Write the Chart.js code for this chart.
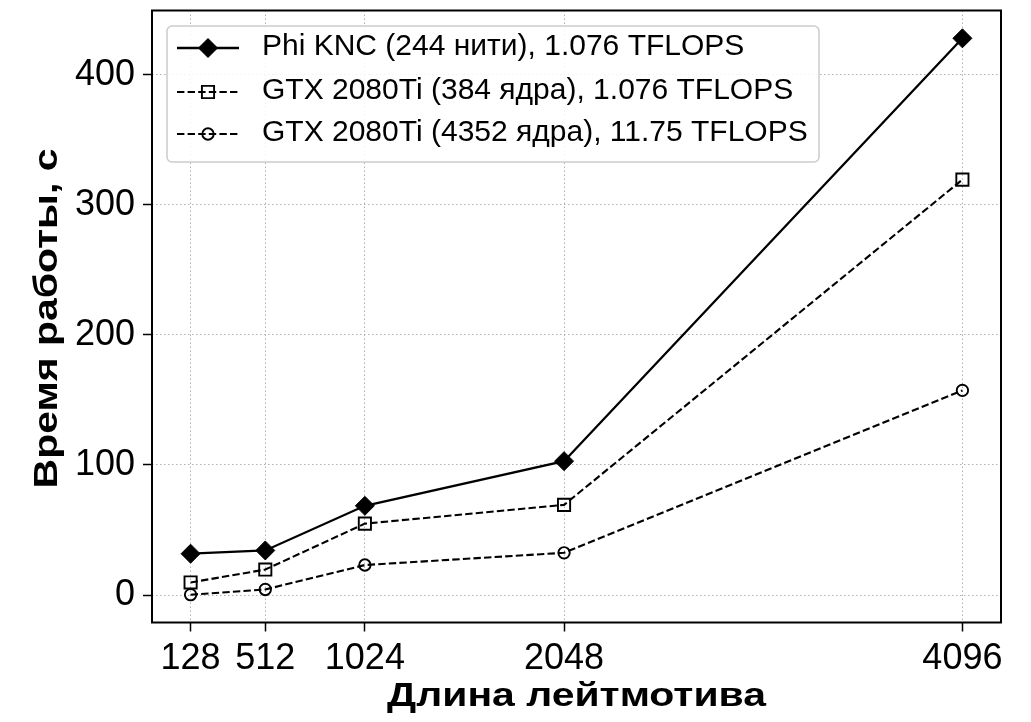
<!DOCTYPE html>
<html>
<head>
<meta charset="utf-8">
<script src="https://cdn.jsdelivr.net/npm/chart.js@4.4.1/dist/chart.umd.min.js"></script>
<style>
  html, body { margin: 0; padding: 0; background: #ffffff; }
  #wrap { width: 1031px; height: 722px; }
</style>
</head>
<body>
<div id="wrap"><canvas id="chart" width="1031" height="722"></canvas></div>
<script>
// Motif length (x) and run time in seconds (y) for each device
const motifLengths = [128, 512, 1024, 2048, 4096];
const phiKnc = [31.8, 34.3, 68.6, 102.9, 427.9];
const gtx384 = [9.7, 19.6, 54.9, 69.3, 319.3];
const gtx4352 = [0.3, 4.3, 23.1, 32.5, 157.3];
const yTickValues = [0, 100, 200, 300, 400];
const xTickValues = [128, 512, 1024, 2048, 4096];
const seriesNames = [
  'Phi KNC (244 нити), 1.076 TFLOPS',
  'GTX 2080Ti (384 ядра), 1.076 TFLOPS',
  'GTX 2080Ti (4352 ядра), 11.75 TFLOPS'
];
const xTitle = 'Длина лейтмотива';
const yTitle = 'Время работы, с';

const FONT = '"Liberation Sans", Arial, Helvetica, sans-serif';
const DASH = [7.4, 3.2];

function toPoints(values) {
  return motifLengths.map((x, i) => ({ x: x, y: values[i] }));
}

// axis limits with a 5% margin around the data
const xSpan = Math.max(...motifLengths) - Math.min(...motifLengths);
const allY = phiKnc.concat(gtx384, gtx4352);
const ySpan = Math.max(...allY) - Math.min(...allY);
const xMin = Math.min(...motifLengths) - 0.05 * xSpan;
const xMax = Math.max(...motifLengths) + 0.05 * xSpan;
const yMin = Math.min(...allY) - 0.05 * ySpan;
const yMax = Math.max(...allY) + 0.05 * ySpan;

const seriesStyles = [
  { pointStyle: 'rectRot', radius: 9.5, fill: '#000000', borderWidth: 1, lineWidth: 2.3, dash: [] },
  { pointStyle: 'rect', radius: 8.6, fill: 'rgba(0,0,0,0)', borderWidth: 1.9, lineWidth: 2.1, dash: DASH },
  { pointStyle: 'circle', radius: 5.7, fill: 'rgba(0,0,0,0)', borderWidth: 1.9, lineWidth: 2.1, dash: DASH }
];
const seriesValues = [phiKnc, gtx384, gtx4352];

const datasets = seriesValues.map((vals, i) => {
  const s = seriesStyles[i];
  return {
    label: seriesNames[i],
    data: toPoints(vals),
    borderColor: '#000000',
    borderWidth: s.lineWidth,
    borderDash: s.dash,
    pointStyle: s.pointStyle,
    pointRadius: s.radius,
    pointHoverRadius: s.radius,
    pointBackgroundColor: s.fill,
    pointBorderColor: '#000000',
    pointBorderWidth: s.borderWidth,
    tension: 0,
    fill: false,
    clip: false
  };
});

// box frame around the plotting area
const framePlugin = {
  id: 'frame',
  afterDatasetsDraw(chart) {
    const { ctx, chartArea: a } = chart;
    ctx.save();
    ctx.setLineDash([]);
    ctx.strokeStyle = '#000000';
    ctx.lineWidth = 2;
    ctx.strokeRect(a.left, a.top, a.right - a.left, a.bottom - a.top);
    ctx.restore();
  }
};

// legend box in the upper left corner of the plot
const legendPlugin = {
  id: 'boxLegend',
  afterDraw(chart) {
    const { ctx, chartArea: a } = chart;
    const x0 = a.left + 15, y0 = a.top + 15.5, w = 652, h = 136;
    ctx.save();
    ctx.beginPath();
    ctx.roundRect(x0, y0, w, h, 5);
    ctx.fillStyle = 'rgba(255,255,255,0.85)';
    ctx.fill();
    ctx.strokeStyle = '#cccccc';
    ctx.lineWidth = 1.5;
    ctx.stroke();
    const rows = [y0 + 22, y0 + 66, y0 + 108];
    seriesStyles.forEach((s, i) => {
      const ry = rows[i];
      const lx1 = x0 + 10, lx2 = x0 + 72, mx = (lx1 + lx2) / 2;
      ctx.beginPath();
      ctx.setLineDash(s.dash);
      ctx.strokeStyle = '#000000';
      ctx.lineWidth = s.lineWidth;
      ctx.moveTo(lx1, ry);
      ctx.lineTo(lx2, ry);
      ctx.stroke();
      ctx.setLineDash([]);
      ctx.fillStyle = s.fill;
      ctx.strokeStyle = '#000000';
      ctx.lineWidth = s.borderWidth;
      Chart.helpers.drawPoint(ctx, {
        pointStyle: s.pointStyle,
        radius: s.radius,
        borderWidth: s.borderWidth,
        rotation: 0
      }, mx, ry);
      ctx.fillStyle = '#000000';
      ctx.font = '30px ' + FONT;
      ctx.textBaseline = 'middle';
      ctx.textAlign = 'left';
      ctx.fillText(seriesNames[i], x0 + 95, ry - 1);
    });
    ctx.restore();
  }
};

// bold axis titles, slightly widened
const titlesPlugin = {
  id: 'axisTitles',
  afterDraw(chart) {
    const { ctx, chartArea: a } = chart;
    const sx = 1.24;
    ctx.save();
    ctx.fillStyle = '#000000';
    ctx.font = 'bold 33px ' + FONT;
    ctx.textAlign = 'center';
    ctx.textBaseline = 'alphabetic';
    ctx.save();
    ctx.translate((a.left + a.right) / 2, 706);
    ctx.scale(sx, 1);
    ctx.fillText(xTitle, 0, 0);
    ctx.restore();
    ctx.save();
    ctx.translate(57, (a.top + a.bottom) / 2 + 2);
    ctx.rotate(-Math.PI / 2);
    ctx.scale(sx, 1);
    ctx.fillText(yTitle, 0, 0);
    ctx.restore();
    ctx.restore();
  }
};

const gridCommon = {
  color: '#b0b0b0',
  lineWidth: 1,
  borderDash: [1.5, 2.5],
  drawTicks: true,
  tickLength: 9,
  tickColor: '#000000',
  tickWidth: 1.5,
  tickBorderDash: []
};

new Chart(document.getElementById('chart'), {
  type: 'line',
  data: { datasets: datasets },
  options: {
    responsive: false,
    devicePixelRatio: 1,
    animation: false,
    events: [],
    layout: { padding: { top: 6.5, right: 30, left: 0, bottom: 0 } },
    plugins: {
      legend: { display: false },
      tooltip: { enabled: false },
      title: { display: false }
    },
    scales: {
      x: {
        type: 'linear',
        min: xMin,
        max: xMax,
        afterBuildTicks(scale) { scale.ticks = xTickValues.map(v => ({ value: v })); },
        afterFit(scale) {
          scale.height = 99.5;
          scale.paddingLeft = 0;
          scale.paddingRight = 0;
        },
        grid: gridCommon,
        border: { display: false, dash: [1.5, 2.5] },
        ticks: {
          color: '#000000',
          font: { family: FONT, size: 36 },
          padding: 6,
          maxRotation: 0,
          autoSkip: false,
          callback: v => String(v)
        },
        title: { display: false }
      },
      y: {
        type: 'linear',
        min: yMin,
        max: yMax,
        afterBuildTicks(scale) { scale.ticks = yTickValues.map(v => ({ value: v })); },
        afterFit(scale) {
          scale.width = 152;
          scale.paddingTop = 0;
          scale.paddingBottom = 0;
        },
        grid: gridCommon,
        border: { display: false, dash: [1.5, 2.5] },
        ticks: {
          color: '#000000',
          font: { family: FONT, size: 36 },
          padding: 8,
          autoSkip: false,
          callback: v => String(v)
        },
        title: { display: false }
      }
    }
  },
  plugins: [framePlugin, legendPlugin, titlesPlugin]
});
</script>
</body>
</html>
